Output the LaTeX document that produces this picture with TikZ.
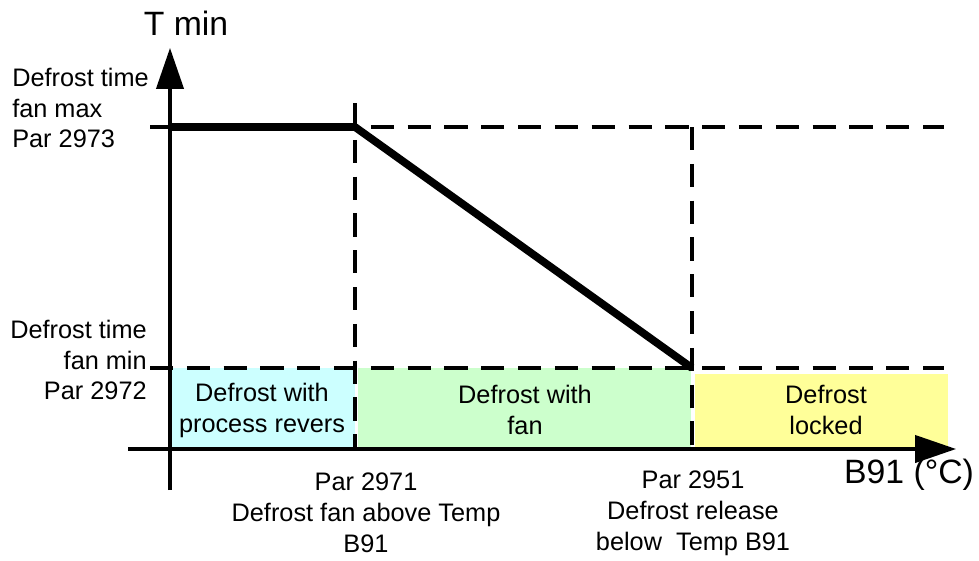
\documentclass[tikz,border=0pt]{standalone}
\usepackage{fontspec}
\setmainfont{Liberation Sans}
\usepackage{tikz}
\usetikzlibrary{arrows.meta}

\definecolor{revcyan}{HTML}{CCFFFF}
\definecolor{fangreen}{HTML}{CCFFCC}
\definecolor{lockyellow}{HTML}{FFFF99}

\begin{document}
\begin{tikzpicture}[x=0.025cm,y=-0.025cm,
	axis/.style={line width=2.2pt,-{Triangle[length=1.02cm,width=0.68cm]}},
	guide/.style={line width=2.2pt,dash pattern=on 0.58cm off 0.34cm},
	curve/.style={line width=5.5pt,line join=round},
	lbl/.style={font=\fontsize{18}{22}\selectfont,inner sep=0pt},
	big/.style={font=\fontsize{24}{28}\selectfont,inner sep=0pt}]
	\useasboundingbox (0,0) rectangle (979,560);

	% points
	\coordinate (X0) at (128,449);
	\coordinate (X1) at (956,449);
	\coordinate (Y0) at (170,490);
	\coordinate (Y1) at (170,48);

	\coordinate (Tmax) at (170,127);
	\coordinate (P2971) at (355,127);
	\coordinate (P2951) at (692,368);

	% zones
	\fill[revcyan] (171,368) rectangle (355,449);
	\fill[fangreen] (358,368) rectangle (691,449);
	\fill[lockyellow] (695,374) rectangle (948,449);

	% dashed guides
	\draw[guide] (150,127) -- (944,127);
	\draw[guide] (150,368) -- (944,368);
	\draw[guide] (355,103) -- (355,449);
	\draw[guide] (692,127) -- (692,449);

	% defrost time curve
	\draw[curve] (Tmax) -- (P2971) -- (P2951);

	% axes
	\draw[axis] (X0) -- (X1);
	\draw[axis] (Y0) -- (Y1);

	% axis labels
	\node[big] (tmin) at (186,23) {T min};
	\node[big] (b91) at (909,475) {B91 (°C)};

	% parameter labels
	\node[lbl, anchor=west, align=left] (fanmax) at (12,108)
		{Defrost time\\fan max\\Par 2973};
	\node[lbl, anchor=east, align=right] (fanmin) at (147,360)
		{Defrost time\\fan min\\Par 2972};
	\node[lbl, align=center] (above) at (366,513)
		{Par 2971\\Defrost fan above Temp\\B91};
	\node[lbl, align=center] (below) at (693,513)
		{Par 2951\\Defrost release\\below\ \ Temp B91};

	% zone labels
	\node[lbl, align=center] (revers) at (262,410) {Defrost with\\process revers};
	\node[lbl, align=center] (withfan) at (525,410) {Defrost with\\fan};
	\node[lbl, align=center] (locked) at (826,410) {Defrost\\locked};

\end{tikzpicture}
\end{document}
